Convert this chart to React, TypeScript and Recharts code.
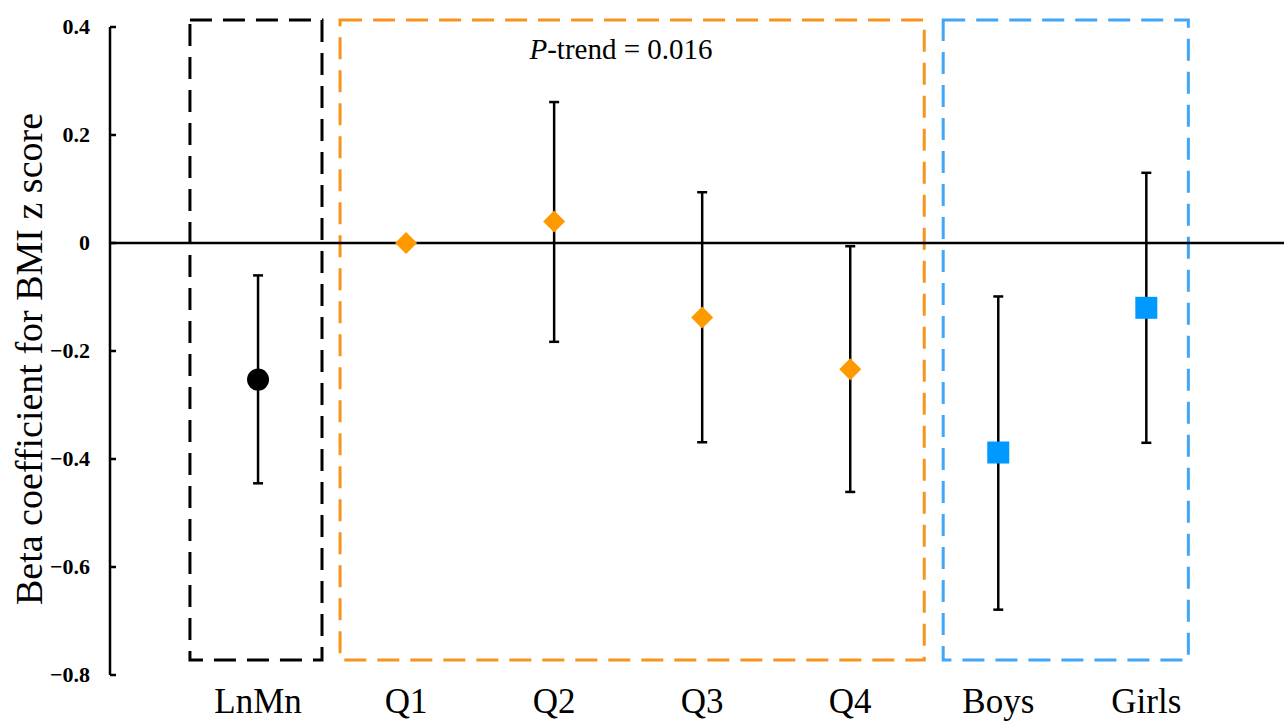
import React from "react";
import {
  ComposedChart,
  Scatter,
  ErrorBar,
  XAxis,
  YAxis,
  ReferenceLine,
  ReferenceArea,
} from "recharts";

// categories along the x axis (position = index + 1)
const categories = ["LnMn", "Q1", "Q2", "Q3", "Q4", "Boys", "Girls"];

// beta coefficients and 95% CI bounds
const lnmnBeta = [-0.253];
const lnmnLow = [-0.445];
const lnmnHigh = [-0.06];

const quartileBeta = [0, 0.04, -0.138, -0.234];
const quartileLow = [0, -0.183, -0.369, -0.461];
const quartileHigh = [0, 0.261, 0.094, -0.006];

const sexBeta = [-0.388, -0.12];
const sexLow = [-0.679, -0.37];
const sexHigh = [-0.099, 0.13];

const yTicks = [0.4, 0.2, 0, -0.2, -0.4, -0.6, -0.8];

// dashed grouping boxes, in axis units
const groupBoxes = [
  { x1: 0.54, x2: 1.432, color: "#000000" },
  { x1: 1.554, x2: 5.5, color: "#F7941D" },
  { x1: 5.628, x2: 7.284, color: "#42A5F5" },
];

const FONT = '"Liberation Serif", "Times New Roman", serif';

function toRows(start: number, beta: number[], low: number[], high: number[]) {
  return beta.map((b, i) => ({
    x: start + i,
    y: b,
    err: [b - low[i], high[i] - b],
  }));
}

const lnmnRows = toRows(1, lnmnBeta, lnmnLow, lnmnHigh);
const quartileRows = toRows(2, quartileBeta, quartileLow, quartileHigh);
const sexRows = toRows(6, sexBeta, sexLow, sexHigh);

const Circle = (p: any) => <circle cx={p.cx} cy={p.cy} r={11} fill="#000000" />;
const Diamond = (p: any) => (
  <path
    d={`M${p.cx},${p.cy - 11} L${p.cx + 11},${p.cy} L${p.cx},${p.cy + 11} L${p.cx - 11},${p.cy} Z`}
    fill="#FF9900"
  />
);
const Square = (p: any) => (
  <rect x={p.cx - 11} y={p.cy - 11} width={22} height={22} fill="#0099FF" />
);

const YTick = (p: any) => {
  const v = Number(p.payload.value);
  const label = v === 0 ? "0" : v < 0 ? `\u2212${Math.abs(v).toFixed(1)}` : v.toFixed(1);
  return (
    <g>
      <line x1={p.x} x2={p.x + 6} y1={p.y} y2={p.y} stroke="#000" strokeWidth={2.5} />
      <text
        x={p.x - 20}
        y={p.y}
        dy={7}
        textAnchor="end"
        fontFamily={FONT}
        fontWeight="bold"
        fontSize={22}
        fill="#000"
      >
        {label}
      </text>
    </g>
  );
};

const XTick = (p: any) => {
  const idx = Math.round(Number(p.payload.value)) - 1;
  return (
    <text
      x={p.x}
      y={p.y}
      dy={36}
      textAnchor="middle"
      fontFamily={FONT}
      fontSize={35}
      fill="#000"
    >
      {categories[idx] ?? ""}
    </text>
  );
};

export default function App() {
  return (
    <div style={{ position: "absolute", left: 0, top: 0, background: "#fff" }}>
      <ComposedChart
        width={1284}
        height={722}
        margin={{ top: 27, right: 0, bottom: 0, left: 0 }}
      >
        <XAxis
          type="number"
          dataKey="x"
          domain={[0, 7.93]}
          ticks={categories.map((_, i) => i + 1)}
          axisLine={false}
          tickLine={false}
          tickSize={0}
          tick={<XTick />}
          height={47}
        />
        <YAxis
          type="number"
          dataKey="y"
          domain={[-0.8, 0.4]}
          ticks={yTicks}
          width={110}
          tickSize={0}
          tickMargin={0}
          tick={<YTick />}
          axisLine={{ stroke: "#000", strokeWidth: 2.5 }}
          tickLine={false}
          interval={0}
        />
        {groupBoxes.map((g, i) => (
          <ReferenceArea
            key={i}
            x1={g.x1}
            x2={g.x2}
            y1={-0.772}
            y2={0.413}
            fill="none"
            stroke={g.color}
            strokeWidth={3}
            strokeDasharray="22 11"
            ifOverflow="visible"
          />
        ))}
        <ReferenceLine y={0} stroke="#000" strokeWidth={2.5} />
        <Scatter data={lnmnRows} shape={<Circle />} isAnimationActive={false}>
          <ErrorBar dataKey="err" direction="y" width={5} stroke="#000" strokeWidth={2.5} />
        </Scatter>
        <Scatter data={quartileRows} shape={<Diamond />} isAnimationActive={false}>
          <ErrorBar dataKey="err" direction="y" width={5} stroke="#000" strokeWidth={2.5} />
        </Scatter>
        <Scatter data={sexRows} shape={<Square />} isAnimationActive={false}>
          <ErrorBar dataKey="err" direction="y" width={5} stroke="#000" strokeWidth={2.5} />
        </Scatter>
        <text x={621} y={59} textAnchor="middle" fontFamily={FONT} fontSize={29} fill="#000">
          <tspan fontStyle="italic">P</tspan>-trend = 0.016
        </text>
        <text
          transform="translate(42, 359) rotate(-90)"
          textAnchor="middle"
          fontFamily={FONT}
          fontSize={38}
          fill="#000"
        >
          Beta coefficient for BMI z score
        </text>
      </ComposedChart>
    </div>
  );
}
